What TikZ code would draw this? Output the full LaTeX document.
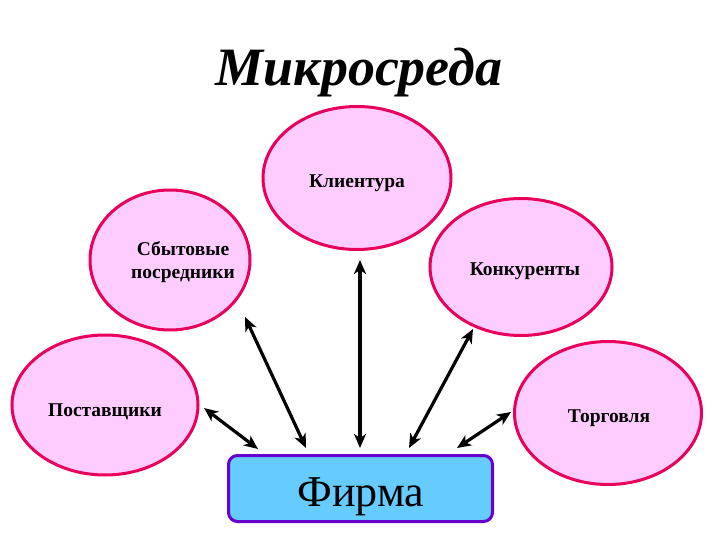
\documentclass[tikz,border=0pt]{standalone}
\usepackage{fontspec}
\setmainfont{Liberation Serif}
\usetikzlibrary{shapes.geometric,arrows.meta}
\definecolor{ellfill}{HTML}{FFCCFF}
\definecolor{elldraw}{HTML}{E8005A}
\definecolor{boxfill}{HTML}{66CCFF}
\definecolor{boxdraw}{HTML}{6600CC}
\tikzset{
  ell/.style={ellipse, draw=elldraw, fill=ellfill, line width=3pt, inner sep=0pt},
  lbl/.style={font=\bfseries\fontsize{19.5}{23}\selectfont, align=center, text=black, inner sep=0pt},
  link/.style={{Stealth[length=14pt,width=12pt,inset=4pt]}-{Stealth[length=14pt,width=12pt,inset=4pt]}, line width=3.2pt, black},
}
\begin{document}
\begin{tikzpicture}[x=1pt,y=-1pt]
\useasboundingbox (0,0) rectangle (720,540);
\node[anchor=base] (title) at (359,86) {\bfseries\itshape\fontsize{54}{60}\selectfont Микросреда};

\node[ell, minimum width=186pt, minimum height=140pt] (post) at (105,405) {};
\node[ell, minimum width=160pt, minimum height=140pt] (sbyt) at (170,260) {};
\node[ell, minimum width=188pt, minimum height=143pt] (klie) at (357,178) {};
\node[ell, minimum width=182pt, minimum height=137pt] (konk) at (521,267) {};
\node[ell, minimum width=187pt, minimum height=143pt] (torg) at (608,413) {};

\node[lbl, anchor=base] (tpost) at (105,416) {Поставщики};
\node[lbl] (tsbyt) at (183,262) {Сбытовые\\посредники};
\node[lbl, anchor=base] (tklie) at (357,188) {Клиентура};
\node[lbl, anchor=base] (tkonk) at (525,275) {Конкуренты};
\node[lbl, anchor=base] (ttorg) at (609,422) {Торговля};

\node[draw=boxdraw, fill=boxfill, line width=3pt, rounded corners=9pt,
      minimum width=264pt, minimum height=66pt] (firm) at (360.5,488.5) {};
\node[font=\fontsize{44}{48}\selectfont, anchor=base] (tfirm) at (361,506) {Фирма};

\coordinate (p1) at (204,408);  \coordinate (p2) at (258,449);
\coordinate (s1) at (245,317);  \coordinate (s2) at (306,448);
\coordinate (k1) at (360,260);  \coordinate (k2) at (360,448);
\coordinate (c1) at (473,329);  \coordinate (c2) at (409,448);
\coordinate (t1) at (511,412);  \coordinate (t2) at (457,448);

\draw[link] (p1) -- (p2);
\draw[link] (s1) -- (s2);
\draw[link] (k1) -- (k2);
\draw[link] (c1) -- (c2);
\draw[link] (t1) -- (t2);
\end{tikzpicture}
\end{document}
